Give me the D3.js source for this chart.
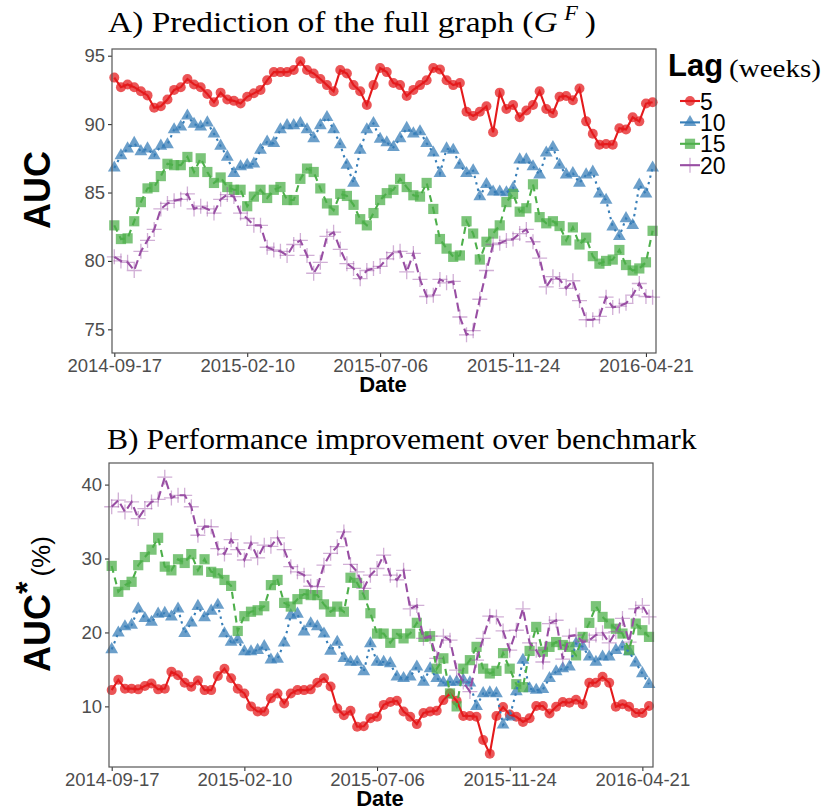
<!DOCTYPE html>
<html><head><meta charset="utf-8">
<script src="https://cdn.jsdelivr.net/npm/d3@7"></script>
<style>body{margin:0;background:#fff}svg{display:block}</style>
</head><body><svg id="c" width="825" height="812"></svg>
<script>
// ---------- data ----------
const lags = ["5", "10", "15", "20"];
const colors = ["#E41A1C", "#377EB8", "#4DAF4A", "#984EA3"];
const tickLabels = ["2014-09-17", "2015-02-10", "2015-07-06", "2015-11-24", "2016-04-21"];
const tickIndex = [0, 20, 40, 60, 80];
const aucTicks = [75, 80, 85, 90, 95];
const impTicks = [10, 20, 30, 40];

// Panel A: AUC
const aucLag5 = [93.4,92.7,92.9,92.7,92.4,92.1,91.2,91.3,91.8,92.5,92.7,93.3,92.9,92.7,92.2,91.6,92.3,91.8,91.7,91.5,
 92.0,92.25,92.5,93.2,93.8,93.8,93.8,93.95,94.6,93.95,93.7,93.3,92.85,92.4,93.95,93.7,92.85,92.4,91.4,92.85,
 94.1,93.8,93.0,92.85,92.05,92.5,92.85,93.2,94.1,94.0,93.2,92.85,93.0,90.9,90.6,90.9,91.3,89.4,92.3,91.1,
 91.4,90.5,91.0,91.4,92.4,91.1,90.8,92.0,92.05,91.75,92.6,90.2,89.3,88.5,88.55,88.5,89.7,89.6,90.5,90.2,91.5,91.6];
const aucLag10 = [86.8,87.7,88.2,88.6,88.0,88.2,87.7,88.4,88.5,89.6,89.8,90.6,90.0,89.8,90.1,89.3,88.4,87.6,86.4,86.9,
 87.0,87.1,88.1,88.7,88.6,89.6,89.9,89.9,90.05,89.6,88.95,89.9,90.5,89.6,88.5,87.0,85.7,88.1,89.6,90.05,
 88.9,88.65,88.3,88.95,89.7,89.3,89.45,88.6,87.9,86.4,88.2,88.1,87.0,86.4,86.6,84.7,85.6,85.05,85.05,85.0,
 85.3,87.4,87.4,86.9,86.3,87.9,88.3,87.0,86.3,86.4,85.7,86.3,86.5,84.9,84.45,82.5,81.8,83.1,82.6,85.55,84.9,86.8];
const aucLag15 = [82.6,81.6,81.65,82.9,84.3,85.3,85.4,86.2,87.1,87.0,87.0,87.6,86.5,87.5,86.5,85.7,86.1,85.4,85.2,85.2,
 84.0,84.7,85.2,84.6,85.2,85.4,84.45,84.45,86.0,86.75,86.5,85.3,84.2,83.7,84.9,84.75,84.1,83.05,82.6,83.5,
 84.45,84.95,85.2,86.0,85.4,84.8,84.7,85.7,83.8,81.6,80.9,80.3,80.4,82.9,82.0,80.1,81.4,82.0,82.6,84.3,
 84.9,83.6,83.85,85.6,83.2,82.75,82.9,82.55,81.5,82.45,81.2,81.7,80.35,79.8,80.0,80.1,80.8,79.7,79.3,79.45,79.9,82.2];
const aucLag20 = [80.3,80.0,79.9,79.3,80.7,81.5,82.3,83.8,84.2,84.4,84.5,84.9,83.8,84.0,83.8,83.5,84.5,84.85,84.7,83.5,
 83.1,82.6,82.6,81.0,80.8,80.7,80.4,81.2,81.5,80.4,79.1,79.9,81.8,82.1,80.85,79.8,79.45,78.7,79.3,79.45,
 79.6,80.15,80.6,80.7,79.2,80.55,78.65,77.4,77.5,78.65,78.4,78.5,75.9,74.6,74.9,77.2,79.3,81.2,81.3,81.5,
 81.6,82.0,82.3,81.4,80.2,78.1,78.85,78.65,78.0,78.55,77.1,75.7,75.7,75.95,77.35,76.6,76.7,76.9,77.5,78.35,77.4,77.35];

// Panel B: AUC* (%)
const impLag5 = [12.2,13.6,12.4,12.4,12.3,12.75,13.1,12.3,12.4,14.7,14.2,13.2,12.65,13.5,12.2,12.2,14.1,15.1,13.8,12.4,
 11.75,10.0,9.3,9.3,11.1,11.75,10.4,11.75,12.2,12.2,12.3,13.2,13.8,12.7,9.7,8.8,9.4,7.25,7.3,8.4,
 8.6,10.2,10.6,10.75,9.3,8.6,7.6,9.1,9.3,9.4,10.85,11.75,10.75,8.7,8.7,8.6,5.45,3.6,8.7,9.9,
 8.9,8.6,7.9,8.4,10.05,10.05,9.05,9.95,10.6,10.5,10.9,10.3,13.2,13.2,14.0,13.2,9.95,10.3,9.95,9.1,9.1,10.05];
const impLag10 = [17.7,19.95,20.8,21.0,23.2,21.9,21.4,22.5,22.6,22.1,23.2,19.9,21.3,23.55,22.0,22.9,23.7,19.85,18.7,19.0,
 17.4,17.4,17.6,18.1,16.3,16.4,18.6,22.3,22.5,20.1,21.2,20.8,19.8,17.5,18.7,16.5,16.0,16.0,14.7,18.5,
 16.0,16.0,15.8,14.0,13.8,14.0,15.35,13.3,15.1,13.8,13.2,13.3,13.3,13.55,13.2,10.0,11.75,11.85,11.75,7.5,
 8.6,12.0,16.25,12.4,12.2,12.3,13.8,14.7,15.1,15.35,18.5,18.05,16.7,16.0,16.7,16.7,17.6,18.05,17.4,15.9,14.45,13.0];
const impLag15 = [29.0,25.5,26.4,26.85,29.1,30.2,31.2,32.8,28.9,28.4,29.9,29.4,30.6,28.4,29.9,28.2,28.0,27.1,26.3,20.2,
 22.2,22.8,23.0,23.55,26.4,27.1,24.0,23.5,24.5,25.2,25.05,25.05,23.8,22.8,23.5,22.8,27.4,26.7,25.05,22.6,
 19.85,19.85,18.6,19.8,19.2,19.85,21.3,19.4,19.5,15.1,16.5,11.75,10.0,15.1,16.25,18.05,15.1,14.45,14.8,17.2,
 15.1,13.0,12.6,17.5,20.75,17.4,18.05,18.7,18.3,18.05,16.9,19.4,21.3,23.55,22.1,21.2,20.5,19.85,17.6,21.2,20.3,19.4];
const impLag20 = [37.0,37.9,36.3,37.65,35.4,36.75,37.65,38.0,41.0,38.2,38.55,38.55,37.0,33.15,34.35,34.3,31.35,30.6,32.55,31.2,
 29.8,32.1,30.1,31.8,31.65,32.8,31.2,28.9,28.2,27.75,26.25,26.2,29.1,30.7,31.6,33.6,29.2,28.2,25.95,27.75,
 28.65,30.45,27.75,27.1,28.4,23.2,23.65,19.2,19.5,16.5,19.5,18.95,14.9,13.3,12.0,16.25,19.2,22.2,22.1,20.2,
 17.6,20.3,23.2,18.6,17.6,16.0,21.2,21.65,16.4,19.5,19.65,18.7,18.95,19.65,19.95,18.6,20.1,21.9,18.7,23.2,23.65,22.1];

// ---------- layout / style ----------
const panels = [
  {series: [aucLag5, aucLag10, aucLag15, aucLag20], ticks: aucTicks,
   left: 112, right: 656, top: 49, bottom: 353, yDomain: [73.27, 95.49], xRange: [114.3, 652.6]},
  {series: [impLag5, impLag10, impLag15, impLag20], ticks: impTicks,
   left: 109, right: 653, top: 463, bottom: 767, yDomain: [1.8, 42.92], xRange: [111.7, 649]}
];
const dashes = [null, "2.4,4.2", "7,5", "9,4.5"];
const shapes = ["circle", "triangle", "square", "plus"];

const svg = d3.select("#c");
const SANS = "'Liberation Sans', Arial, sans-serif";
const SERIF = "'Liberation Serif', 'DejaVu Serif', serif";

function drawMarker(g, shape, color, cx, cy, scale) {
  scale = scale || 1;
  if (shape === "circle") {
    g.append("circle").attr("cx", cx).attr("cy", cy).attr("r", 5 * scale)
      .attr("fill", color).attr("fill-opacity", 0.74);
  } else if (shape === "triangle") {
    const s = 12.8 * scale, h = s * Math.sqrt(3) / 2;
    g.append("path").attr("d", `M${cx},${cy - h * 2 / 3}L${cx + s / 2},${cy + h / 3}L${cx - s / 2},${cy + h / 3}Z`)
      .attr("fill", color).attr("fill-opacity", 0.74);
  } else if (shape === "square") {
    const s = 10.2 * scale;
    g.append("rect").attr("x", cx - s / 2).attr("y", cy - s / 2).attr("width", s).attr("height", s)
      .attr("fill", color).attr("fill-opacity", 0.74);
  } else {
    const a = 7.5 * scale;
    g.append("path").attr("d", `M${cx - a},${cy}H${cx + a}M${cx},${cy - a}V${cy + a}`)
      .attr("stroke", color).attr("stroke-opacity", 0.45).attr("stroke-width", 1.3).attr("fill", "none");
  }
}

// stretch a text element horizontally so it spans the given width
function fitWidth(sel, x0, target) {
  const w = sel.node().getBBox().width;
  if (w > 0) sel.attr("transform", `translate(${x0},0) scale(${target / w},1) translate(${-x0},0)`);
}

panels.forEach(p => {
  const n = p.series[0].length;
  const x = d3.scaleLinear().domain([0, n - 1]).range(p.xRange);
  const y = d3.scaleLinear().domain(p.yDomain).range([p.bottom, p.top]);
  const g = svg.append("g");

  // axes
  const xa = g.append("g").attr("transform", `translate(0,${p.bottom})`)
    .call(d3.axisBottom(x).tickValues(tickIndex).tickFormat((d, i) => tickLabels[i]).tickSize(4).tickPadding(2));
  const ya = g.append("g").attr("transform", `translate(${p.left},0)`)
    .call(d3.axisLeft(y).tickValues(p.ticks).tickFormat(d3.format("d")).tickSize(4).tickPadding(3));
  [xa, ya].forEach(a => {
    a.select(".domain").remove();
    a.selectAll(".tick line").attr("stroke", "#333").attr("stroke-width", 1.1);
    a.selectAll(".tick text").attr("fill", "#4D4D4D").style("font-family", SANS).style("font-size", "18.5px");
  });

  // points
  const mg = g.append("g");
  p.series.forEach((s, k) => {
    s.forEach((v, i) => drawMarker(mg, shapes[k], colors[k], x(i), y(v)));
  });
  // lines
  const line = d3.line().x((d, i) => x(i)).y(d => y(d));
  p.series.forEach((s, k) => {
    g.append("path").datum(s).attr("d", line).attr("fill", "none")
      .attr("stroke", colors[k]).attr("stroke-width", 2.1)
      .attr("stroke-dasharray", dashes[k]);
  });

  // frame
  g.append("rect").attr("x", p.left).attr("y", p.top).attr("width", p.right - p.left).attr("height", p.bottom - p.top)
    .attr("fill", "none").attr("stroke", "#555").attr("stroke-width", 1.2);

  // x title
  g.append("text").attr("x", (p.left + p.right) / 2 - 1).attr("y", p.bottom + 39)
    .attr("text-anchor", "middle").style("font-family", SANS).style("font-weight", "bold")
    .style("font-size", "22px").attr("fill", "#000").text("Date");
});

// titles
const tA = svg.append("text").attr("x", 108).attr("y", 32).style("font-family", SERIF).style("font-size", "30px").attr("fill", "#000");
tA.append("tspan").text("A) Prediction of the full graph (");
tA.append("tspan").style("font-style", "italic").text("G");
tA.append("tspan").attr("dy", -12).attr("dx", 6).style("font-style", "italic").style("font-size", "20px").text("F");
tA.append("tspan").attr("dy", 12).attr("dx", 6).text(")");
fitWidth(tA, 108, 488);

const tB = svg.append("text").attr("x", 107).attr("y", 449).style("font-family", SERIF).style("font-size", "30px")
  .attr("fill", "#000").text("B) Performance improvement over benchmark");
fitWidth(tB, 107, 590);

// y titles
svg.append("text").attr("transform", `translate(50,${(49 + 353) / 2 - 11}) rotate(-90)`)
  .attr("text-anchor", "middle").style("font-family", SANS).style("font-weight", "bold")
  .style("font-size", "36px").attr("fill", "#000").text("AUC");
const yB = svg.append("text").attr("transform", `translate(50,672) rotate(-90)`)
  .style("font-family", SANS).attr("fill", "#000");
yB.append("tspan").style("font-weight", "bold").style("font-size", "36px").text("AUC");
yB.append("tspan").style("font-weight", "bold").style("font-size", "32px").attr("dy", -12).text("*");
yB.append("tspan").style("font-size", "26px").attr("dy", 12).attr("dx", 5).text("(%)");

// legend
const lg = svg.append("g");
lg.append("text").attr("x", 668).attr("y", 76).style("font-family", SANS).style("font-weight", "bold")
  .style("font-size", "31px").attr("fill", "#000").text("Lag");
const wk = lg.append("text").attr("x", 729).attr("y", 77).style("font-family", SERIF).style("font-size", "25px")
  .attr("fill", "#000").text("(weeks)");
fitWidth(wk, 729, 92);
lags.forEach((l, k) => {
  const cy = 101 + k * 21.4;
  drawMarker(lg, shapes[k], colors[k], 690, cy, 1);
  lg.append("line").attr("x1", 680).attr("x2", 700).attr("y1", cy).attr("y2", cy)
    .attr("stroke", colors[k]).attr("stroke-width", 2.1);
  lg.append("text").attr("x", 700).attr("y", cy + 8.5).style("font-family", SANS).style("font-size", "23px")
    .attr("fill", "#000").text(l);
});
</script></body></html>
